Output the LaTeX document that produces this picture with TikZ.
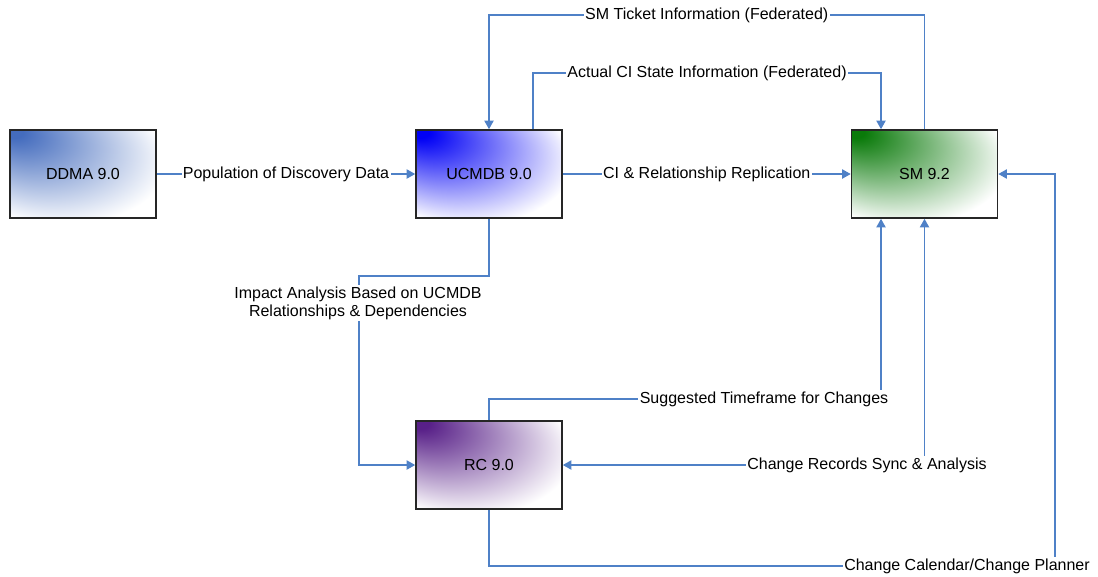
\documentclass[tikz,border=0pt]{standalone}
\usepackage{fontspec}
\setmainfont{Liberation Sans}
\usetikzlibrary{arrows.meta,calc}

\definecolor{ddmablue}{RGB}{68,108,190}
\definecolor{ucmdbblue}{RGB}{0,0,245}
\definecolor{smgreen}{RGB}{10,122,10}
\definecolor{rcpurple}{RGB}{88,32,136}
\definecolor{linkblue}{RGB}{79,129,199}

% corner glow: colour in the top left corner, fading to white
\newcommand{\cornerglow}[2]{%
  \pgfdeclareradialshading{#1}{\pgfpoint{-25bp}{25bp}}%
  {color(0bp)=(#2); color(3bp)=(#2); color(36bp)=(white); color(50bp)=(white)}}
\cornerglow{ddmashade}{ddmablue}
\cornerglow{ucmdbshade}{ucmdbblue}
\cornerglow{smshade}{smgreen}
\cornerglow{rcshade}{rcpurple}

\begin{document}
\begin{tikzpicture}[x=0.75pt,y=-0.75pt,
    sysbox/.style={draw=black!85,line width=1.2pt,shade,minimum width=109.5pt,
      minimum height=66pt,font=\fontsize{12}{13.5}\selectfont},
    link/.style={draw=linkblue,line width=1.1pt},
    arrowend/.style={-{Triangle[length=6.5pt,width=7pt]}},
    twoends/.style={{Triangle[length=6.5pt,width=7pt]}-{Triangle[length=6.5pt,width=7pt]}},
    flow/.style={fill=white,inner sep=1pt,align=center,font=\fontsize{12}{13.5}\selectfont}]
  % Tunables
  \def\ticketY{15}    % rail of the federated ticket line
  \def\stateY{73}     % rail of the federated state line
  \def\impactY{276}   % bend below UCMDB
  \def\impactX{359}   % rail left of RC
  \def\suggestY{399}  % rail above RC
  \def\planY{566}     % rail below RC
  \def\planX{1055}    % rail right of SM

  \useasboundingbox (0,0) rectangle (1098,576);

  % Systems
  \node[sysbox,shading=ddmashade] (ddma) at (83,174) {DDMA 9.0};
  \node[sysbox,shading=ucmdbshade] (ucmdb) at (489,174) {UCMDB 9.0};
  \node[sysbox,shading=smshade] (sm) at (924.5,174) {SM 9.2};
  \node[sysbox,shading=rcshade] (rc) at (489,465) {RC 9.0};

  % Side ports
  \coordinate (ucmdbport) at ($(ucmdb.north)+(44,0)$);
  \coordinate (smtop) at ($(sm.north)+(-43.5,0)$);
  \coordinate (smfoot) at ($(sm.south)+(-43.5,0)$);

  % Straight links
  \draw[link,arrowend] (ddma.east) -- node[flow] {Population of Discovery Data} (ucmdb.west);
  \draw[link,arrowend] (ucmdb.east) -- node[flow] {CI \& Relationship Replication} (sm.west);

  % Federated links above
  \draw[link,arrowend] (sm.north) -- (sm.north |- 0,\ticketY)
    -- node[flow] {SM Ticket Information (Federated)} (ucmdb.north |- 0,\ticketY) -- (ucmdb.north);
  \draw[link,arrowend] (ucmdbport) -- (ucmdbport |- 0,\stateY)
    -- node[flow] {Actual CI State Information (Federated)} (smtop |- 0,\stateY) -- (smtop);

  % Links of RC
  \draw[link,arrowend] (ucmdb.south) |- (\impactX,\impactY) |- (rc.west);
  \node[flow] (impact) at (358,303) {Impact Analysis Based on UCMDB\\Relationships \& Dependencies};
  \draw[link,arrowend] (rc.north) -- (rc.north |- 0,\suggestY) -| (smfoot);
  \node[flow] (suggest) at (764,\suggestY) {Suggested Timeframe for Changes};
  \draw[link,twoends] (sm.south) |- (rc.east);
  \node[flow] (sync) at (867,465) {Change Records Sync \& Analysis};
  \draw[link,arrowend] (rc.south) |- (\planX,\planY) |- (sm.east);
  \node[flow] (plan) at (967,\planY) {Change Calendar/Change Planner};
\end{tikzpicture}
\end{document}
